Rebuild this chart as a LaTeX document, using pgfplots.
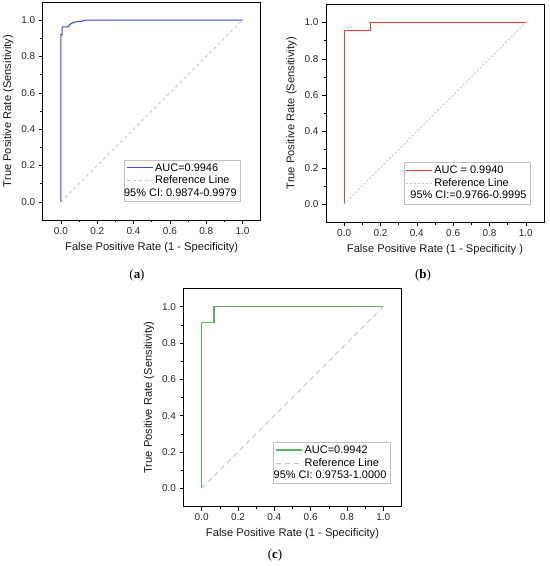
\documentclass[border=0pt]{standalone}
\usepackage{fontspec}
\setmainfont{Liberation Sans}
\newfontfamily\capfont{Liberation Serif}
\usepackage{pgfplots}
\pgfplotsset{compat=1.18}
\definecolor{rocblue}{RGB}{64,64,228}
\definecolor{rocred}{RGB}{238,60,50}
\definecolor{rocgreen}{RGB}{92,180,92}
\definecolor{refgray}{RGB}{195,195,195}
\pgfplotsset{rocax/.style={
  width=218bp, height=218bp, scale only axis,
  xmin=-0.1, xmax=1.1, ymin=-0.1, ymax=1.1,
  xtick={0,0.2,0.4,0.6,0.8,1}, ytick={0,0.2,0.4,0.6,0.8,1},
  minor x tick num=1, minor y tick num=1,
  tick align=outside, xtick pos=bottom, ytick pos=left,
  major tick length=4bp, minor tick length=2.2bp,
  every tick/.style={black, line width=0.6bp},
  axis line style={line width=0.8bp},
  x tick label style={/pgf/number format/.cd, fixed, fixed zerofill, precision=1, /tikz/.cd},
  y tick label style={/pgf/number format/.cd, fixed, fixed zerofill, precision=1, /tikz/.cd},
  /pgf/number format/assume math mode=true,
  tick label style={font=\fontsize{10}{11}\selectfont, text=black!85},
  label style={font=\fontsize{11.2}{12}\selectfont, text=black!90},
  xlabel style={at={(axis description cs:0.5,-0.126)}, anchor=center},
  ylabel style={at={(axis description cs:-0.158,0.5)}, anchor=center},
  ylabel={True Positive Rate (Sensitivity)},
  legend cell align=left,
  legend style={draw=black!25, line width=0.6bp, font=\fontsize{11}{12}\selectfont,
    inner sep=1.5bp, row sep=-0.5bp, anchor=south east,
    legend image code/.code={\draw[##1] (0bp,0bp) -- (26bp,0bp);}},
}}
\begin{document}
\begin{tikzpicture}
\useasboundingbox (0,0) rectangle (550bp,-566bp);
% (a)
\begin{axis}[rocax, at={(42.7bp,-220bp)}, anchor=south west,
  xlabel={False Positive Rate (1 - Specificity)},
  legend style={at={(axis description cs:0.908,0.0833)}}]
\addplot[rocblue, line width=1.1bp] coordinates {
 (0,0) (0,0.92) (0.007,0.92) (0.007,0.963) (0.04,0.963) (0.045,0.97)
 (0.055,0.98) (0.065,0.985) (0.08,0.99) (0.1,0.993) (0.12,0.995) (0.13,1.0) (1,1)};
\addlegendentry{AUC=0.9946}
\addplot[refgray, line width=0.8bp, dash pattern=on 3bp off 3bp] coordinates {(0,0) (1,1)};
\addlegendentry{Reference Line}
\addlegendimage{empty legend}
\addlegendentry{\hspace*{-31bp}95\% CI: 0.9874-0.9979}
\end{axis}
% (b)
\begin{axis}[rocax, at={(326bp,-222.3bp)}, anchor=south west,
  xlabel={False Positive Rate (1 - Specificity )},
  legend style={at={(axis description cs:0.937,0.0833)}}]
\addplot[rocred, line width=1.1bp] coordinates {
 (0,0) (0,0.957) (0.143,0.957) (0.143,1.0) (1,1)};
\addlegendentry{AUC = 0.9940}
\addplot[refgray, line width=0.9bp, dash pattern=on 2bp off 2bp] coordinates {(0,0) (1,1)};
\addlegendentry{Reference Line}
\addlegendimage{empty legend}
\addlegendentry{\hspace*{-24bp}95\% CI:=0.9766-0.9995}
\end{axis}
% (c)
\begin{axis}[rocax, at={(183.5bp,-506.5bp)}, anchor=south west,
  xlabel={False Positive Rate (1 - Specificity)},
  legend style={at={(axis description cs:0.948,0.103)}}]
\addplot[rocgreen, line width=1.5bp] coordinates {
 (0,0) (0,0.913) (0.067,0.913) (0.067,1.0) (1,1)};
\addlegendentry{AUC=0.9942}
\addplot[refgray, line width=0.8bp, dash pattern=on 5bp off 4bp] coordinates {(0,0) (1,1)};
\addlegendentry{Reference Line}
\addlegendimage{empty legend}
\addlegendentry{\hspace*{-31bp}95\% CI: 0.9753-1.0000}
\end{axis}
\node[font=\capfont\fontsize{13}{15}\selectfont] at (137bp,-275bp) {(\textbf{a})};
\node[font=\capfont\fontsize{13}{15}\selectfont] at (423bp,-275bp) {(\textbf{b})};
\node[font=\capfont\fontsize{13}{15}\selectfont] at (275bp,-555bp) {(\textbf{c})};
\end{tikzpicture}
\end{document}
